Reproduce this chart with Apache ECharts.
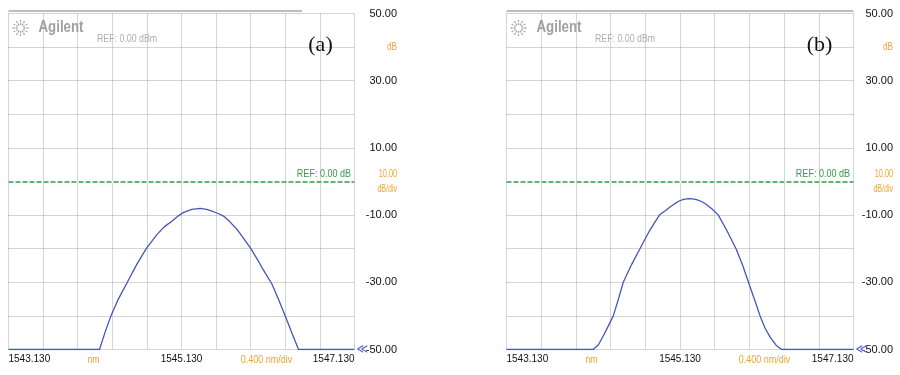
<!DOCTYPE html>
<html><head><meta charset="utf-8">
<script src="https://cdn.jsdelivr.net/npm/echarts@6/dist/echarts.min.js"></script>
<style>html,body{margin:0;padding:0;background:#fff}#c{width:900px;height:375px}</style>
</head><body><div id="c"></div>
<script>
// ---- data ----
const xStart = 1543.130;          // nm, left edge
const xSpan = 4.0;                // nm, full width
const xDiv = 0.400;               // nm/div
const xTickLabels = ['1543.130', '1545.130', '1547.130'];
const yMin = -50, yMax = 50, yDiv = 10;
const yTickLabels = ['-50.00', '-30.00', '-10.00', '10.00', '30.00', '50.00'];
const refLevel = 0;
const panelNames = ['(a)', '(b)'];

const wavelengthA = [1543.130, 1544.182, 1544.250, 1544.314, 1544.400, 1544.499, 1544.610, 1544.722, 1544.845, 1544.930, 1545.019, 1545.090, 1545.154, 1545.250, 1545.346, 1545.420, 1545.500, 1545.560, 1545.616, 1545.690, 1545.770, 1545.850, 1545.932, 1546.010, 1546.078, 1546.175, 1546.250, 1546.329, 1546.410, 1546.483, 1547.130];
const powerA      = [-50, -50, -44.6, -40, -35, -30.2, -24.8, -20, -15.8, -13.5, -11.8, -10.3, -9.2, -8.3, -8.0, -8.3, -9.0, -9.6, -10.3, -12.0, -14.2, -17.0, -20, -23.3, -26.4, -30.5, -35, -40, -45.3, -50, -50];

const wavelengthB = [1543.130, 1544.130, 1544.190, 1544.245, 1544.300, 1544.361, 1544.420, 1544.476, 1544.570, 1544.668, 1544.780, 1544.892, 1544.960, 1545.015, 1545.070, 1545.120, 1545.170, 1545.226, 1545.280, 1545.330, 1545.390, 1545.438, 1545.500, 1545.572, 1545.670, 1545.776, 1545.850, 1545.919, 1545.990, 1546.053, 1546.110, 1546.169, 1546.240, 1546.303, 1547.130];
const powerB      = [-50, -50, -48.6, -46, -43.2, -40, -35, -30, -24.8, -20, -14.6, -10, -8.7, -7.6, -6.6, -5.8, -5.3, -5.1, -5.2, -5.5, -6.1, -6.9, -8.2, -10, -14.6, -20, -24.8, -30, -35.2, -40, -43.6, -46.3, -48.8, -50, -50];

// ---- styles ----
const SANS = '"Liberation Sans", Arial, Helvetica, sans-serif';
const ORANGE = '#eba534';
const GREEN = '#37994a';
const BLUE = '#4656b8';
const GRIDC = '#ababab';

const panels = [
  {left: 8.5, top: 13.5, width: 346, height: 336, labelMargin: 42.5, topLineEnd: 302, name: panelNames[0]},
  {left: 506.5, top: 13.5, width: 347, height: 336, labelMargin: 39.5, topLineEnd: 853.5, name: panelNames[1]}
];
const seriesData = [
  wavelengthA.map((w, i) => [w - xStart, powerA[i]]),
  wavelengthB.map((w, i) => [w - xStart, powerB[i]])
];

function txt(x, y, text, font, fill, align, sx) {
  return {type: 'text', x: x, y: y, scaleX: sx || 1, silent: true, z: 10,
    style: {text: text, font: font, fill: fill, align: align || 'left', verticalAlign: 'middle'}};
}

const grids = [], xAxes = [], yAxes = [], series = [], graphics = [];
panels.forEach((p, i) => {
  grids.push({left: p.left, top: p.top, width: p.width, height: p.height, containLabel: false});
  xAxes.push({
    type: 'value', gridIndex: i, min: 0, max: xSpan, interval: xDiv,
    axisLine: {show: false}, axisTick: {show: false},
    splitLine: {show: true, lineStyle: {color: GRIDC, type: [1, 1], width: 1}},
    axisLabel: {
      show: true, margin: 5, color: '#111', fontSize: 10, fontFamily: SANS,
      alignMinLabel: 'left', alignMaxLabel: 'right',
      formatter: v => { const k = Math.round(v / xDiv); return k % 5 === 0 ? xTickLabels[k / 5] : ''; }
    }
  });
  yAxes.push({
    type: 'value', gridIndex: i, position: 'right', min: yMin, max: yMax, interval: yDiv,
    axisLine: {show: false}, axisTick: {show: false},
    splitLine: {show: true, lineStyle: {color: GRIDC, type: [1, 1], width: 1}},
    axisLabel: {
      show: true, align: 'right', margin: p.labelMargin, padding: [5, 0, 0, 0],
      color: '#111', fontSize: 11, fontFamily: SANS,
      formatter: v => { const k = Math.round((v - yMin) / yDiv); return k % 2 === 0 ? yTickLabels[k / 2] : ''; }
    }
  });
  series.push({
    type: 'line', xAxisIndex: i, yAxisIndex: i, data: seriesData[i],
    showSymbol: false, smooth: false, z: 3,
    lineStyle: {color: BLUE, width: 1.3}, silent: true, animation: false, clip: true,
    markLine: {
      silent: true, symbol: 'none', animation: false, z: 5,
      label: {show: false},
      data: [
        {yAxis: refLevel, lineStyle: {color: '#ffffff', type: 'solid', width: 2}},
        {yAxis: refLevel, lineStyle: {color: GREEN, type: [5, 2], width: 1.5}}
      ]
    }
  });

  const R = p.left + p.width;     // right edge of plot
  const B = p.top + p.height;     // bottom edge of plot
  const labRight = R + p.labelMargin;
  // top thick line
  graphics.push({type: 'line', shape: {x1: p.left, y1: 11, x2: p.topLineEnd, y2: 11}, style: {stroke: '#bdbdbd', lineWidth: 2}, silent: true});
  // logo starburst
  const cx = p.left + 12, cy = 28;
  for (let k = 0; k < 12; k++) {
    const a = k * Math.PI / 6;
    graphics.push({type: 'line', shape: {x1: cx + 3 * Math.cos(a), y1: cy + 3 * Math.sin(a), x2: cx + 8 * Math.cos(a), y2: cy + 8 * Math.sin(a)},
      style: {stroke: '#a8a8a8', lineWidth: 1.3, lineDash: [2, 1]}, silent: true});
  }
  graphics.push(txt(p.left + 30, 28, 'Agilent', 'bold 16px ' + SANS, '#a0a0a0', 'left', 0.83));
  graphics.push(txt(p.left + 88.5, 39, 'REF: 0.00 dBm', '11px ' + SANS, '#adadad', 'left', 0.8));
  // panel letter with white box
  const lx = p.left + p.width - 35;
  graphics.push({type: 'rect', shape: {x: lx - 18, y: 31, width: 40, height: 37}, style: {fill: '#fff'}, silent: true});
  graphics.push(txt(lx + 1, 45, p.name, '22px "Liberation Serif", "Times New Roman", serif', '#111', 'center'));
  // REF line label
  graphics.push(txt(R - 3.5, p.top + 160, 'REF: 0.00 dB', '11px ' + SANS, GREEN, 'right', 0.82));
  // orange right labels
  graphics.push(txt(labRight, 47, 'dB', '11px ' + SANS, ORANGE, 'right', 0.75));
  graphics.push(txt(labRight, 173.5, '10.00', '11px ' + SANS, ORANGE, 'right', 0.66));
  graphics.push(txt(labRight, 188.5, 'dB/div', '11px ' + SANS, ORANGE, 'right', 0.64));
  // blue marker
  graphics.push(txt(R + 2, B, '\u226A', '13px "DejaVu Sans", sans-serif', '#5566c8', 'left', 0.85));
  // orange bottom labels
  graphics.push(txt(p.left + 85, B + 10, 'nm', '11px ' + SANS, ORANGE, 'center', 0.8));
  graphics.push(txt(p.left + 258, B + 10, '0.400 nm/div', '11px ' + SANS, ORANGE, 'center', 0.82));
});

const chart = echarts.init(document.getElementById('c'), null, {renderer: 'canvas'});
chart.setOption({
  animation: false,
  backgroundColor: '#fff',
  grid: grids, xAxis: xAxes, yAxis: yAxes, series: series,
  graphic: {elements: graphics}
});
</script></body></html>
